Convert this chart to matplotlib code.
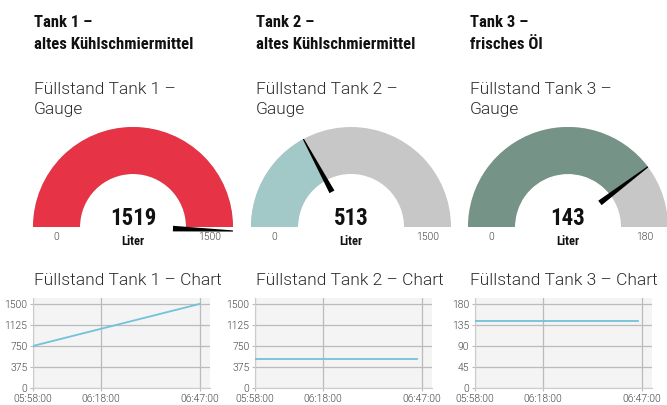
import numpy as np
import pandas as pd
import matplotlib
matplotlib.use('Agg')
import matplotlib.pyplot as plt
import matplotlib.dates as mdates
from matplotlib.patches import Wedge, Polygon

# --- data ---
tank_titles = ['Tank 1 –', 'Tank 2 –', 'Tank 3 –']
tank_subtitles = ['altes Kühlschmiermittel', 'altes Kühlschmiermittel', 'frisches Öl']
gauge_values = [1519, 513, 143]
gauge_max = [1500, 1500, 180]
gauge_colors = ['#e63346', '#a3c8c8', '#759387']

series_times = [['05:58:00', '06:47:00'],
                ['05:58:00', '06:45:30'],
                ['05:58:00', '06:46:00']]
series_values = [[750, 1500], [513, 513], [143, 143]]
y_ticks = [[0, 375, 750, 1125, 1500],
           [0, 375, 750, 1125, 1500],
           [0, 45, 90, 135, 180]]
x_ticks = ['05:58:00', '06:18:00', '06:47:00']
x_end = '06:50:00'

W, H = 667, 405
LIGHT = ['Roboto', 'DejaVu Sans']
NARROW = ['Roboto Condensed', 'DejaVu Sans']


def fx(x):
    return x / W


def fy(y):
    return 1 - y / H


def to_time(s):
    return mdates.date2num(pd.to_datetime('2020-01-01 ' + pd.Series(s)))


def draw_gauge(fig, cx, cy, value, vmax, color):
    ax = fig.add_axes([fx(cx - 110), fy(cy + 30), 220 / W, 140 / H])
    ax.set_xlim(-1.1, 1.1)
    ax.set_ylim(-0.3, 1.1)
    ax.axis('off')
    frac = min(value / vmax, 1.0)
    ang = 180 - 180 * frac
    ax.add_patch(Wedge((0, 0), 1.0, 0, 180, width=0.47, color='#c6c7c6', lw=0))
    ax.add_patch(Wedge((0, 0), 1.0, ang, 180, width=0.47, color=color, lw=0))
    # needle
    a = np.radians(180 - 180 * value / vmax)
    d = np.array([np.cos(a), np.sin(a)])
    n = np.array([-d[1], d[0]])
    pts = [0.4 * d + 0.028 * n, 1.0 * d + 0.006 * n, 1.0 * d - 0.006 * n, 0.4 * d - 0.028 * n]
    ax.add_patch(Polygon(pts, closed=True, color='black', lw=0))
    ax.text(0, 0.085, str(value), ha='center', va='center', fontsize=16.5,
            fontweight='bold', family=NARROW, color='#111111')
    ax.text(0, -0.15, 'Liter', ha='center', va='center', fontsize=9,
            fontweight='bold', family=NARROW, color='#111111')
    ax.text(-0.765, -0.1, '0', ha='center', va='center', fontsize=7.5,
            fontweight=300, family=LIGHT, color='#444444')
    ax.text(0.765, -0.1, str(vmax), ha='center', va='center', fontsize=7.5,
            fontweight=300, family=LIGHT, color='#444444')


def draw_chart(fig, left, right, i):
    ax = fig.add_axes([fx(left), fy(388), (right - left) / W, 90 / H])
    t = to_time(series_times[i])
    ax.plot(t, series_values[i], color='#72c2dc', lw=1.3, zorder=3)
    ymax = y_ticks[i][-1]
    ax.set_ylim(0, ymax * 1.07)
    ax.set_xlim(to_time([x_ticks[0]])[0], to_time([x_end])[0])
    ax.set_yticks(y_ticks[i])
    ax.set_xticks(to_time(x_ticks))
    ax.xaxis.set_major_formatter(mdates.DateFormatter('%H:%M:%S'))
    ax.set_facecolor('#f4f4f4')
    ax.grid(True, color='#bbbbbb', lw=0.9)
    ax.set_axisbelow(True)
    for s in ['top', 'right']:
        ax.spines[s].set_visible(False)
    for s in ['left', 'bottom']:
        ax.spines[s].set_color('#cccccc')
    ax.tick_params(axis='both', length=2, color='#bbbbbb', labelsize=7.5,
                   labelcolor='#444444', pad=2)
    for lab in ax.get_xticklabels() + ax.get_yticklabels():
        lab.set_family(LIGHT)
        lab.set_fontweight(300)


fig = plt.figure(figsize=(W / 100, H / 100), dpi=100)

header_x = [34, 256, 470]
gauge_cx = [133, 351, 568]
chart_lr = [(33, 210), (255, 432), (475, 652)]

for i in range(3):
    x0 = header_x[i]
    fig.text(fx(x0), fy(27), tank_titles[i], fontsize=12, fontweight='bold',
             family=NARROW, va='baseline', color='#111111')
    fig.text(fx(x0), fy(49), tank_subtitles[i], fontsize=12, fontweight='bold',
             family=NARROW, va='baseline', color='#111111')
    fig.text(fx(x0), fy(94), 'Füllstand Tank %d –' % (i + 1), fontsize=12.5,
             fontweight=300, family=LIGHT, va='baseline', color='#2a2a2a')
    fig.text(fx(x0), fy(114), 'Gauge', fontsize=12.5, fontweight=300,
             family=LIGHT, va='baseline', color='#2a2a2a')
    fig.text(fx(x0), fy(285), 'Füllstand Tank %d – Chart' % (i + 1), fontsize=12.5,
             fontweight=300, family=LIGHT, va='baseline', color='#2a2a2a')
    draw_gauge(fig, gauge_cx[i], 227, gauge_values[i], gauge_max[i], gauge_colors[i])
    draw_chart(fig, chart_lr[i][0], chart_lr[i][1], i)

fig.savefig('out.png', dpi=100)
